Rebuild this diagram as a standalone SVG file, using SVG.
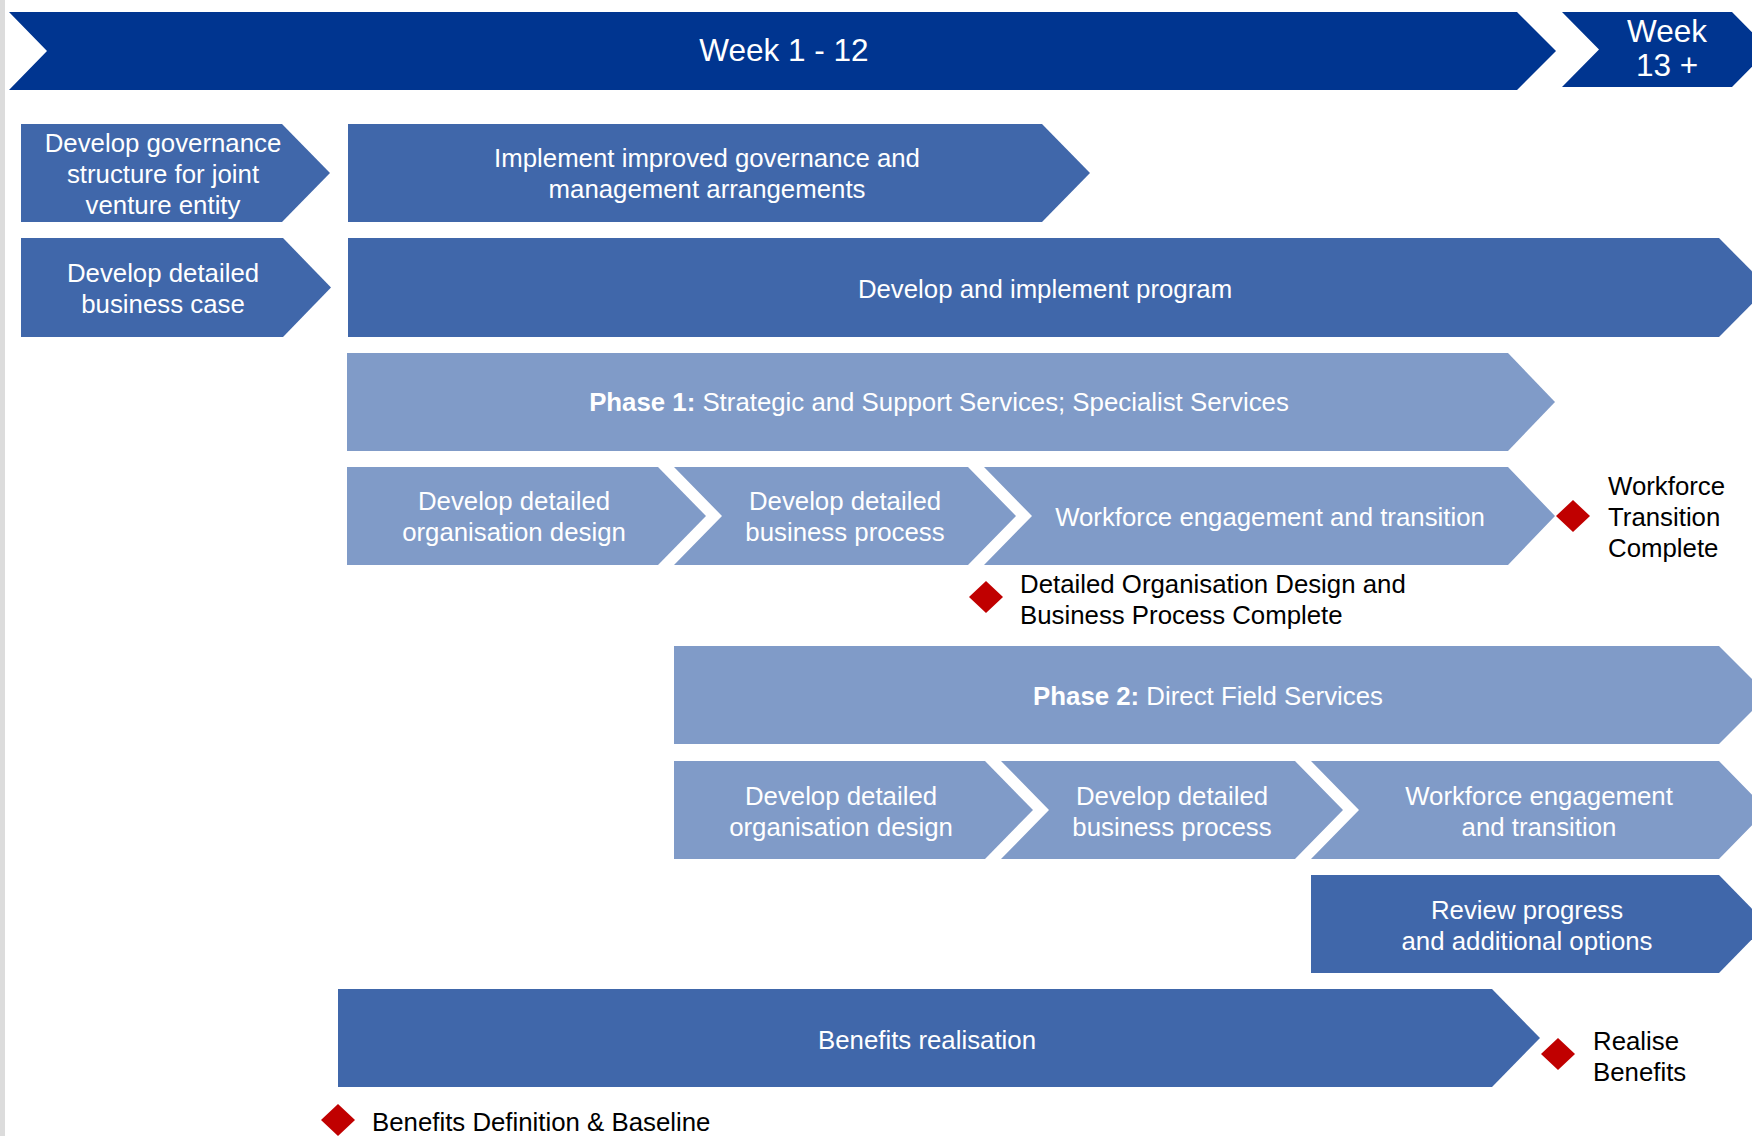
<svg xmlns="http://www.w3.org/2000/svg" width="1752" height="1136" viewBox="0 0 1752 1136">
  <style>
    .dark { fill: #003590; }
    .mid { fill: #4067AA; }
    .light { fill: #809BC8; }
    .ms { fill: #C00000; }
    text { font-family: "Liberation Sans", Arial, Helvetica, sans-serif; }
    .hdr { font-size: 31.5px; fill: #ffffff; text-anchor: middle; }
    .lbl { font-size: 25.8px; fill: #ffffff; text-anchor: middle; }
    .note { font-size: 25.8px; fill: #000000; }
    .b { font-weight: bold; }
  </style>

  <rect x="0" y="0" width="5" height="1136" fill="#dcdcdc"/>

  <!-- Timeline header -->
  <g id="week-1-12">
    <polygon class="dark" points="9,12 1517,12 1556,51 1517,90 9,90 47,51"/>
    <text class="hdr" x="784" y="61">Week 1 - 12</text>
  </g>
  <g id="week-13">
    <polygon class="dark" points="1562,12 1732,12 1769,49.5 1732,87 1562,87 1599,49.5"/>
    <text class="hdr" x="1667" y="42">Week</text>
    <text class="hdr" x="1667" y="76">13 +</text>
  </g>

  <!-- Governance row -->
  <g id="develop-governance">
    <polygon class="mid" points="21,124 282,124 330,173 282,222 21,222"/>
    <text class="lbl" x="163" y="152">Develop governance</text>
    <text class="lbl" x="163" y="183">structure for joint</text>
    <text class="lbl" x="163" y="214">venture entity</text>
  </g>
  <g id="implement-governance">
    <polygon class="mid" points="348,124 1042,124 1090,173 1042,222 348,222"/>
    <text class="lbl" x="707" y="167">Implement improved governance and</text>
    <text class="lbl" x="707" y="198">management arrangements</text>
  </g>

  <!-- Business case / program row -->
  <g id="business-case">
    <polygon class="mid" points="21,238 283,238 331,287.5 283,337 21,337"/>
    <text class="lbl" x="163" y="282">Develop detailed</text>
    <text class="lbl" x="163" y="313">business case</text>
  </g>
  <g id="program">
    <polygon class="mid" points="348,238 1719,238 1768,287.5 1719,337 348,337"/>
    <text class="lbl" x="1045" y="298">Develop and implement program</text>
  </g>

  <!-- Phase 1 -->
  <g id="phase-1">
    <polygon class="light" points="347,353 1508,353 1555,402 1508,451 347,451"/>
    <text class="lbl" x="939" y="411"><tspan class="b">Phase 1:</tspan> Strategic and Support Services; Specialist Services</text>
  </g>
  <g id="p1-org-design">
    <polygon class="light" points="347,467 658,467 706,516 658,565 347,565"/>
    <text class="lbl" x="514" y="510">Develop detailed</text>
    <text class="lbl" x="514" y="541">organisation design</text>
  </g>
  <g id="p1-business-process">
    <polygon class="light" points="674,467 968,467 1016,516 968,565 674,565 722,516"/>
    <text class="lbl" x="845" y="510">Develop detailed</text>
    <text class="lbl" x="845" y="541">business process</text>
  </g>
  <g id="p1-workforce">
    <polygon class="light" points="984,467 1508,467 1555,516 1508,565 984,565 1032,516"/>
    <text class="lbl" x="1270" y="526">Workforce engagement and transition</text>
  </g>
  <g id="ms-workforce-transition">
    <polygon class="ms" points="1573,500 1590,516 1573,532 1556,516"/>
    <text class="note" x="1608" y="495">Workforce</text>
    <text class="note" x="1608" y="526">Transition</text>
    <text class="note" x="1608" y="557">Complete</text>
  </g>
  <g id="ms-design-process">
    <polygon class="ms" points="986,581 1003,597 986,613 969,597"/>
    <text class="note" x="1020" y="593">Detailed Organisation Design and</text>
    <text class="note" x="1020" y="624">Business Process Complete</text>
  </g>

  <!-- Phase 2 -->
  <g id="phase-2">
    <polygon class="light" points="674,646 1719,646 1768,695 1719,744 674,744"/>
    <text class="lbl" x="1208" y="705"><tspan class="b">Phase 2:</tspan> Direct Field Services</text>
  </g>
  <g id="p2-org-design">
    <polygon class="light" points="674,761 985,761 1033,810 985,859 674,859"/>
    <text class="lbl" x="841" y="805">Develop detailed</text>
    <text class="lbl" x="841" y="836">organisation design</text>
  </g>
  <g id="p2-business-process">
    <polygon class="light" points="1001,761 1295,761 1343,810 1295,859 1001,859 1049,810"/>
    <text class="lbl" x="1172" y="805">Develop detailed</text>
    <text class="lbl" x="1172" y="836">business process</text>
  </g>
  <g id="p2-workforce">
    <polygon class="light" points="1311,761 1719,761 1767,810 1719,859 1311,859 1359,810"/>
    <text class="lbl" x="1539" y="805">Workforce engagement</text>
    <text class="lbl" x="1539" y="836">and transition</text>
  </g>
  <g id="review">
    <polygon class="mid" points="1311,875 1719,875 1767,924 1719,973 1311,973"/>
    <text class="lbl" x="1527" y="919">Review progress</text>
    <text class="lbl" x="1527" y="950">and additional options</text>
  </g>

  <!-- Benefits -->
  <g id="benefits">
    <polygon class="mid" points="338,989 1492,989 1540,1038 1492,1087 338,1087"/>
    <text class="lbl" x="927" y="1049">Benefits realisation</text>
  </g>
  <g id="ms-realise-benefits">
    <polygon class="ms" points="1558,1038 1575,1054 1558,1070 1541,1054"/>
    <text class="note" x="1593" y="1050">Realise</text>
    <text class="note" x="1593" y="1081">Benefits</text>
  </g>
  <g id="ms-benefits-baseline">
    <polygon class="ms" points="338,1104 355,1120 338,1136 321,1120"/>
    <text class="note" x="372" y="1131">Benefits Definition &amp; Baseline</text>
  </g>

  <g id="connectors"/>
</svg>
